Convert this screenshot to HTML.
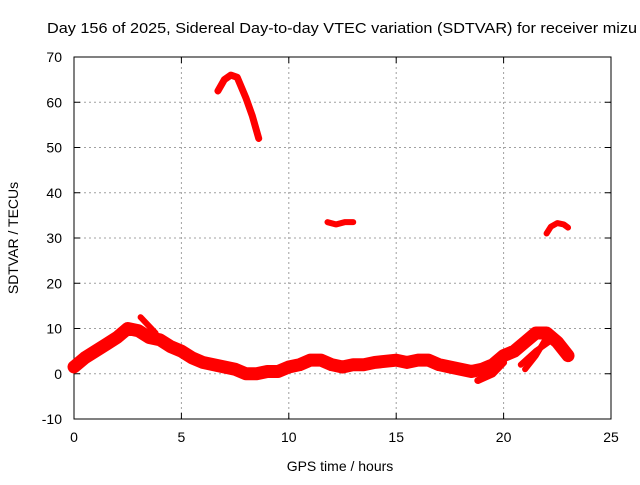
<!DOCTYPE html>
<html><head><meta charset="utf-8"><style>
body{margin:0;background:#fff;width:640px;height:480px;overflow:hidden}
svg text{font-family:"Liberation Sans",sans-serif;font-size:14px;fill:#000}
</style></head><body>
<svg id="c" width="640" height="480"></svg>
<script>
const xTicks=[0,5,10,15,20,25];
const yTicks=[-10,0,10,20,30,40,50,60,70];
const bandMain=[[0,1.5],[0.5,3.5],[1,5],[1.5,6.5],[2,8],[2.5,10],[3,9.5],[3.5,8],[4,7.5],[4.5,6],[5,5],[5.5,3.5],[6,2.5],[7,1.5],[7.5,1],[8,0],[8.5,0],[9,0.5],[9.5,0.5],[10,1.5],[10.5,2],[11,3],[11.5,3],[12,2],[12.5,1.5],[13,2],[13.5,2],[14,2.5],[15,3],[15.5,2.5],[16,3],[16.5,3],[17,2],[17.5,1.5],[18,1],[18.5,0.5],[19,1],[19.5,2],[20,4],[20.5,5],[21,7],[21.5,9],[22,9],[22.5,7],[23,4]];
const streak1=[[3.1,12.5],[3.8,9]];
const streak2=[[18.8,-1.5],[19.5,0],[20,2.5]];
const streak3=[[21,1],[21.5,4],[22,8]];
const streak4=[[20.8,2],[21.5,5],[22.1,7]];
const arc1=[[6.7,62.5],[7,65],[7.3,66],[7.6,65.5],[8,61],[8.3,57],[8.6,52]];
const arc2=[[11.8,33.5],[12.2,33],[12.6,33.5],[13,33.5]];
const arc3=[[22,31],[22.2,32.5],[22.5,33.3],[22.8,33],[23,32.3]];
const X0=74,X1=611,Y0=419,Y1=57;
const sx=v=>X0+(v-0)/25*(X1-X0);
const sy=v=>Y0-(v+10)/80*(Y0-Y1);
const svg=document.getElementById('c');const NS='http://www.w3.org/2000/svg';
function mk(t,a,p){const e=document.createElementNS(NS,t);for(const k in a)e.setAttribute(k,a[k]);(p||svg).appendChild(e);return e;}
xTicks.forEach(v=>{
 if(v>0&&v<25){const l=mk('line',{x1:sx(v),x2:sx(v),y1:Y1,y2:Y0,stroke:'#a0a0a0','stroke-dasharray':'2,3'});
 
 }
 mk('line',{x1:sx(v),x2:sx(v),y1:Y0,y2:Y0-6,stroke:'#000'});
 mk('line',{x1:sx(v),x2:sx(v),y1:Y1,y2:Y1+6,stroke:'#000'});
 const t=mk('text',{x:sx(v),y:Y0+23,'text-anchor':'middle'});t.textContent=v;
 
 
});
yTicks.forEach(v=>{
 if(v>-10&&v<70){const l=mk('line',{x1:X0,x2:X1,y1:sy(v),y2:sy(v),stroke:'#a0a0a0','stroke-dasharray':'2,3'});
 
 }
 mk('line',{x1:X0,x2:X0+6,y1:sy(v),y2:sy(v),stroke:'#000'});
 mk('line',{x1:X1,x2:X1-6,y1:sy(v),y2:sy(v),stroke:'#000'});
 const t=mk('text',{x:X0-12,y:sy(v)+5,'text-anchor':'end'});t.textContent=v;
 
 
});
const fr=mk('rect',{x:X0,y:Y1,width:X1-X0,height:Y0-Y1,fill:'none',stroke:'#000'});


[[bandMain,13],[streak1,6],[streak2,7],[streak3,6],[streak4,6],[arc1,7],[arc2,6],[arc3,6]].forEach(([s,w])=>{
 const p=mk('polyline',{points:s.map(d=>sx(d[0])+','+sy(d[1])).join(' '),fill:'none',stroke:'#ff0000','stroke-width':w,'stroke-linejoin':'round','stroke-linecap':'round'});
 
 
});
const tt=mk('text',{x:47,y:33,textLength:590,lengthAdjust:'spacingAndGlyphs',style:'font-size:15px'});tt.textContent='Day 156 of 2025, Sidereal Day-to-day VTEC variation (SDTVAR) for receiver mizu';


const xl=mk('text',{x:340,y:471,'text-anchor':'middle'});xl.textContent='GPS time / hours';


const yl=mk('text',{x:0,y:0,'text-anchor':'middle',transform:'translate(18,238) rotate(-90)'});yl.textContent='SDTVAR / TECUs';


</script>
</body></html>
